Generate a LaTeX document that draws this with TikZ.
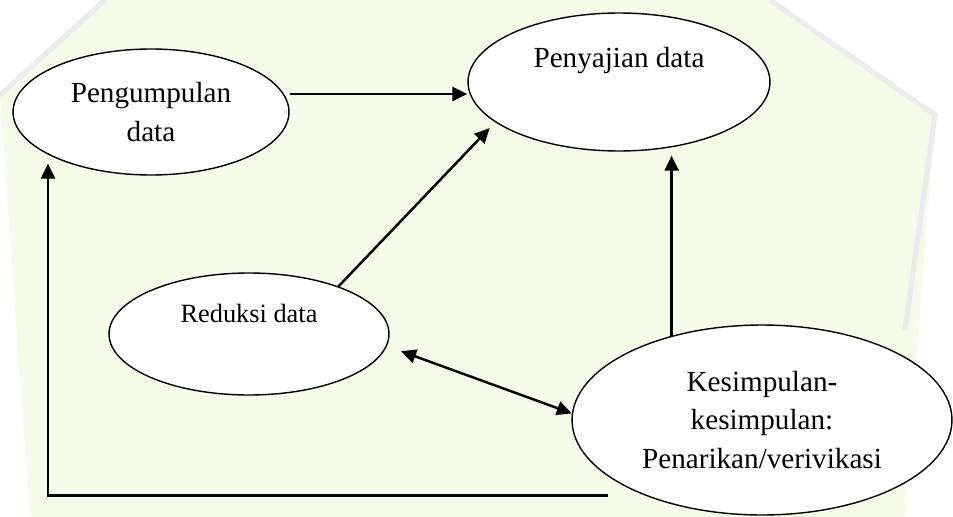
\documentclass[tikz,border=0pt]{standalone}
\usepackage{fontspec}
\setmainfont{Liberation Serif}
\usepackage{tikz}
\usetikzlibrary{positioning}
\usetikzlibrary{arrows.meta}
\usetikzlibrary{shapes.geometric}
\definecolor{wmgreen}{RGB}{245,251,232}
\definecolor{wmgrey}{RGB}{236,236,239}
\tikzset {
  % ellipse vertex style
  main/.style = {draw, ellipse, fill=white, inner sep=0pt, line width=0.8pt, align=center},
  % text sizes of the stages
  txtmid/.style={font=\fontsize{16.6}{22}\selectfont},
  txtsmall/.style={font=\fontsize{15}{19}\selectfont},
  % arrows between the stages
  flow/.style={-{Triangle[length=0.3cm, width=0.28cm]}, line width=1.4pt},
  both/.style={{Triangle[length=0.3cm, width=0.28cm]}-{Triangle[length=0.3cm, width=0.28cm]}, line width=1.4pt},
}

\begin{document}
\begin{tikzpicture}[x=0.02cm, y=-0.02cm]
        \useasboundingbox (0,0) rectangle (953,517);
        \fill[white] (0,0) rectangle (953,517);
        % faint watermark behind the diagram
        \fill[wmgreen] (0,95) -- (105,0) -- (770,0) -- (935,115) -- (905,517) -- (30,517) -- cycle;
        \draw[wmgrey, line width=3pt] (0,95) -- (105,0) (770,0) -- (935,115) -- (905,330);

        \node[main, txtmid, minimum width=5.52cm, minimum height=2.52cm] (kumpul) at (151,112) {Pengumpulan\\data};
        \node[main, txtmid, minimum width=6.04cm, minimum height=2.76cm, text height=0.45cm, text depth=1.05cm] (saji) at (619,82) {Penyajian data};
        \node[main, txtsmall, minimum width=5.6cm, minimum height=2.44cm, text height=0.4cm, text depth=0.88cm] (reduksi) at (249,334) {Reduksi data};
        \node[main, txtmid, minimum width=7.6cm, minimum height=3.8cm] (simpul) at (762,420) {Kesimpulan-\\kesimpulan:\\Penarikan/verivikasi};

        \draw[flow] ([yshift=0.36cm]kumpul.east) -- ([yshift=0.36cm]kumpul.east -| saji.west);
        \draw[flow, shorten >=0.16cm] (reduksi.28) -- (saji.198);
        \draw[flow, shorten >=0.08cm] (simpul.137) -- (simpul.137 |- saji.south);
        \draw[both, shorten <=0.3cm] (reduksi.-5) -- (simpul.178);
        \draw[flow] ([shift={(0.74cm,0.4cm)}]simpul.south -| simpul.west) -| ([shift={(-2.06cm,0.24cm)}]kumpul.south);
      \end{tikzpicture}
\end{document}
